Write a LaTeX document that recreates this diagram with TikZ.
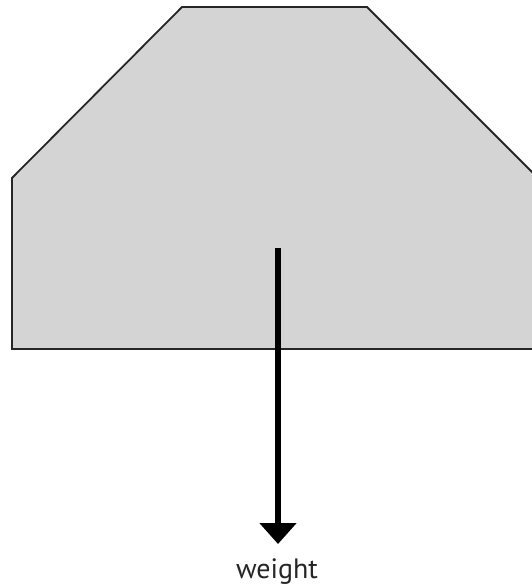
\documentclass[tikz,border=0pt]{standalone}
\usepackage{fontspec}
\setmainfont{PT Sans}
\usetikzlibrary{arrows.meta}
\tikzset{
  body/.style={draw=black!85, line width=1.8pt, fill=black!17, line join=miter},
  force/.style={line width=6pt, -{Triangle[length=21pt, width=36pt]}},
  lbl/.style={font=\fontsize{28}{32}\selectfont, text=black!85, inner sep=0pt, anchor=base}
}
\begin{document}
\begin{tikzpicture}[x=1pt,y=-1pt]
\useasboundingbox (0,0) rectangle (532,586);
\clip (0,0) rectangle (532,586);
\draw[body] (182,7) -- (367,7) -- (537,177) -- (537,349) -- (12,349) -- (12,178) -- cycle;
\coordinate (cg) at (278,248);
\coordinate (tip) at (278,544);
\draw[force] (cg) -- (tip);
\node[lbl] (w) at (277,578) {weight};
\end{tikzpicture}
\end{document}
